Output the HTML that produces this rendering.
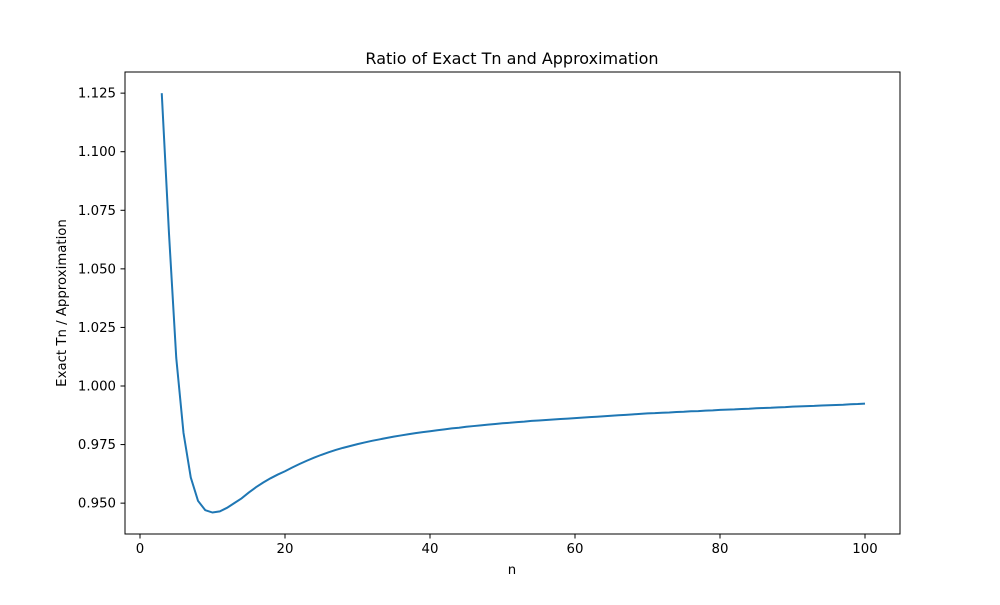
<!DOCTYPE html>
<html><head><meta charset="utf-8"><style>
body{margin:0;background:#fff;}
svg text{font-family:"DejaVu Sans","Liberation Sans",sans-serif;fill:#000;}
</style></head><body>
<svg id="chart" width="1000" height="600">
<rect x="0" y="0" width="1000" height="600" fill="#fff"/>
<text x="512" y="64" font-size="16" text-anchor="middle">Ratio of Exact Tn and Approximation</text>
<g id="xticks"></g>
<g id="yticks"></g>
<text x="512" y="574" font-size="13.3" text-anchor="middle">n</text>
<text transform="translate(66,303) rotate(-90)" font-size="13.3" text-anchor="middle">Exact Tn / Approximation</text>
<path id="line" fill="none" stroke="#1f77b4" stroke-width="2"/>
<rect x="125" y="72" width="775" height="462" fill="none" stroke="#000" stroke-width="1"/>
</svg>
<script>
const xTicks=[0,20,40,60,80,100];
const yTicks=[0.950,0.975,1.000,1.025,1.050,1.075,1.100,1.125];
const nStart=3;
const ratios=[1.125,1.065,1.012,0.980,0.961,0.951,0.947,0.946,0.9465,0.948,0.950,0.952,0.9545,0.9568,0.9588,0.9606,0.9622,0.9636,
0.9652,0.9667,0.9681,0.9694,0.9706,0.9717,0.9727,0.9736,0.9744,0.9752,
0.9759,0.9766,0.9772,0.9778,0.9784,0.9789,0.9794,0.9799,0.9803,0.9807,
0.9811,0.9815,0.9819,0.9822,0.9826,0.9829,0.9832,0.9835,0.9838,0.9841,
0.9843,0.9846,0.9848,0.9851,0.9853,0.9855,0.9857,0.9859,0.9861,0.9863,
0.9865,0.9867,0.9869,0.9871,0.9873,0.9875,0.9877,0.9879,0.9881,0.9883,
0.9884,0.9886,0.9887,0.9889,0.9890,0.9892,0.9893,0.9895,0.9896,0.9898,
0.9899,0.9900,0.9902,0.9903,0.9905,0.9906,0.9907,0.9909,0.9910,0.9912,
0.9913,0.9914,0.9915,0.9917,0.9918,0.9919,0.9920,0.9922,0.9923,0.9925];
const X=v=>140+v*7.25;
const Y=v=>386-(v-1)*2342.9;
const NS='http://www.w3.org/2000/svg';
const xg=document.getElementById('xticks'),yg=document.getElementById('yticks');
xTicks.forEach(t=>{
 const l=document.createElementNS(NS,'line');
 l.setAttribute('x1',X(t));l.setAttribute('x2',X(t));l.setAttribute('y1',534);l.setAttribute('y2',538.5);l.setAttribute('stroke','#000');
 
 
 xg.appendChild(l);
 const tx=document.createElementNS(NS,'text');
 tx.setAttribute('x',X(t));tx.setAttribute('y',553);tx.setAttribute('font-size','13.3');tx.setAttribute('text-anchor','middle');tx.textContent=t;
 
 
 xg.appendChild(tx);
});
yTicks.forEach(t=>{
 const l=document.createElementNS(NS,'line');
 l.setAttribute('x1',120.5);l.setAttribute('x2',125);l.setAttribute('y1',Y(t));l.setAttribute('y2',Y(t));l.setAttribute('stroke','#000');
 
 
 yg.appendChild(l);
 const tx=document.createElementNS(NS,'text');
 tx.setAttribute('x',116);tx.setAttribute('y',Y(t)+4.5);tx.setAttribute('font-size','13.3');tx.setAttribute('text-anchor','end');tx.textContent=t.toFixed(3);
 
 
 yg.appendChild(tx);
});
document.getElementById('line').setAttribute('d',ratios.map((v,i)=>(i?'L':'M')+X(nStart+i).toFixed(2)+','+Y(v).toFixed(2)).join(''));
</script>
</body></html>
